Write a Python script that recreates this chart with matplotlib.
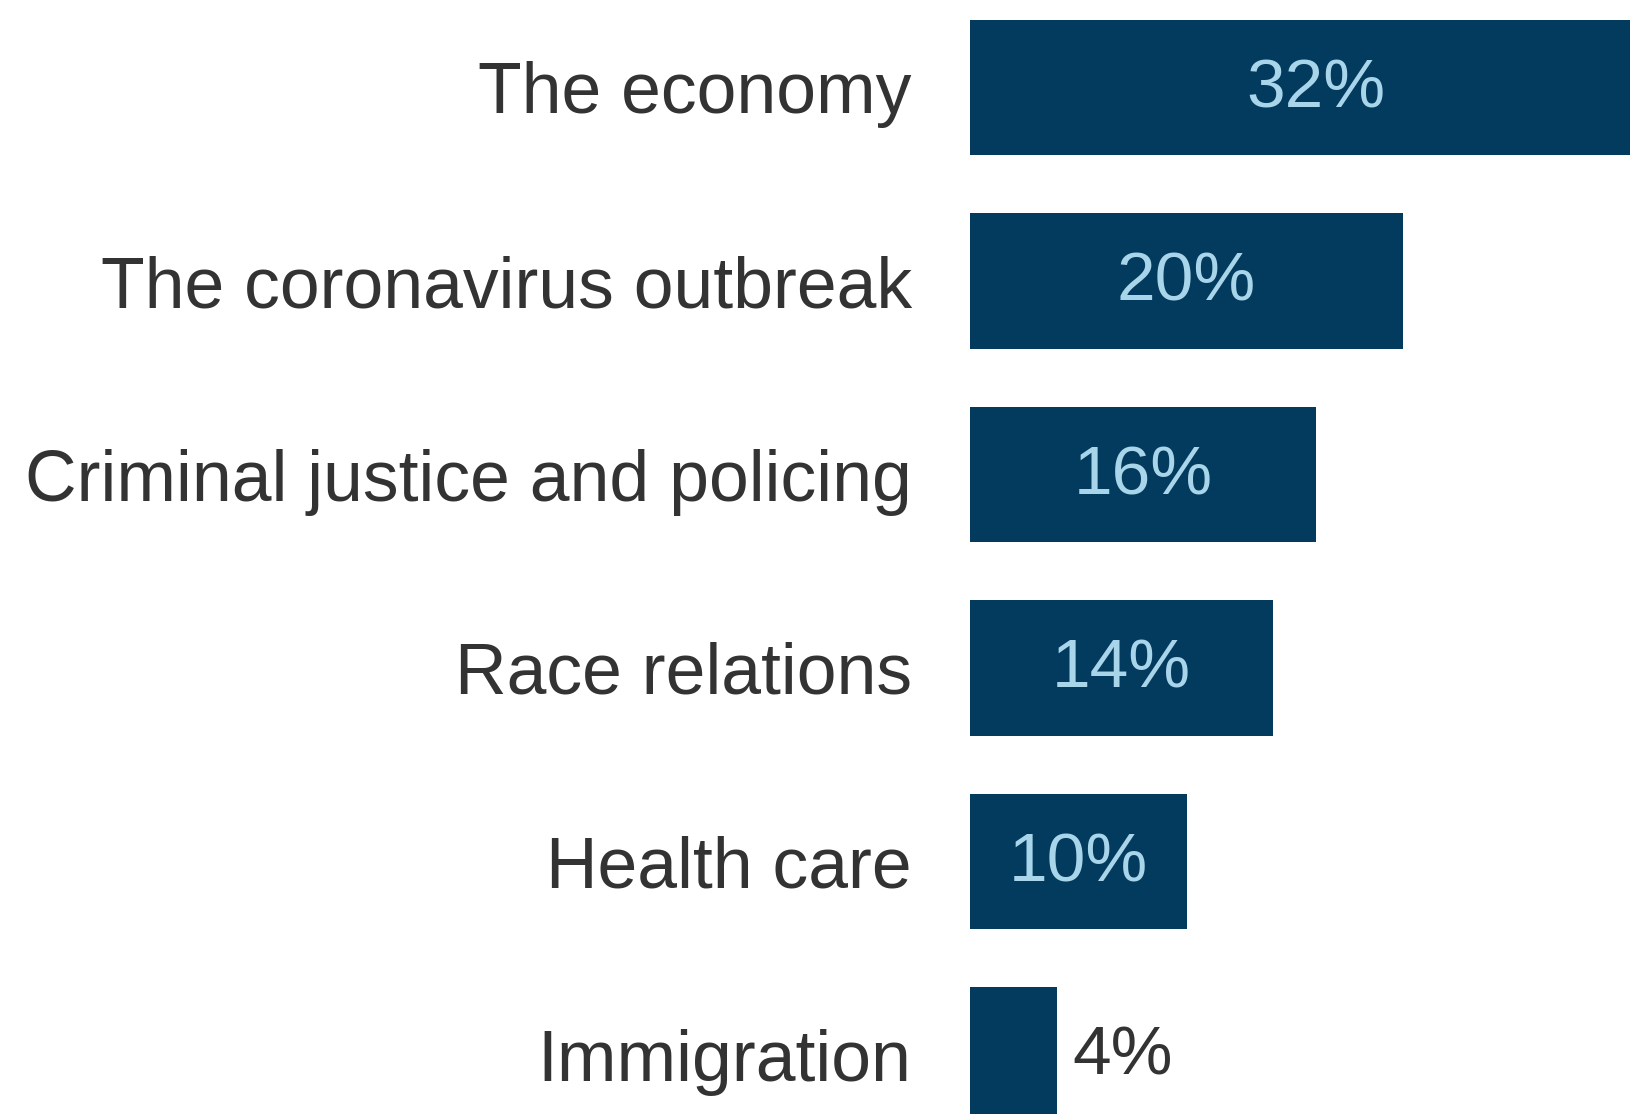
import numpy as np
import matplotlib.pyplot as plt

categories = ["The economy", "The coronavirus outbreak", "Criminal justice and policing",
              "Race relations", "Health care", "Immigration"]
values = [32, 20, 16, 14, 10, 4]

bar_color = "#023b5e"
inside_color = "#a9d5ea"
text_color = "#333333"

plt.rcParams['font.family'] = ['Liberation Sans', 'DejaVu Sans']

fig = plt.figure(figsize=(16.3, 11.14), dpi=100)
ax = fig.add_axes([970/1630, 0, 1 - 970/1630, 1])

y = np.arange(len(categories))
ax.barh(y, values, height=0.7, color=bar_color)

# one bar step is ~193.5 px, first bar centre ~87.5 px from the top
px = 1/193.5
ax.set_ylim((1114 - 87.5)*px, -87.5*px)
ax.set_xlim(0, (1630 - 970)/21.65)

for i, v in enumerate(values):
    if v >= 8:
        ax.text(v/2, i + 0.01, f"{v}%", ha="center", va="center", fontsize=50,
                color=inside_color)
    else:
        ax.text(v + 0.75, i + 0.01, f"{v}%", ha="left", va="center", fontsize=50,
                color=text_color)

ax.set_yticks(y)
ax.set_yticklabels(categories, fontsize=51.5, color=text_color)
ax.tick_params(axis="y", length=0, pad=42)
ax.set_xticks([])
for s in ax.spines.values():
    s.set_visible(False)

fig.savefig("out.png", dpi=100)
